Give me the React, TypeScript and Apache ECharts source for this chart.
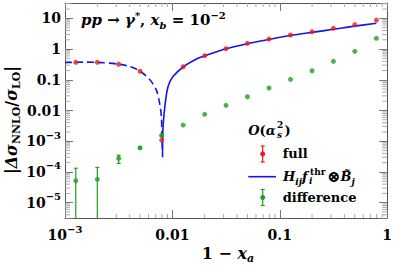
import React, { useEffect, useRef } from 'react';
import * as echarts from 'echarts';

// ---------- data ----------
const X_POINTS = [0.00126, 0.002, 0.00316, 0.005, 0.00794, 0.0126, 0.02, 0.0316, 0.05, 0.0794, 0.126, 0.2, 0.316, 0.5, 0.794];
const FULL = [0.37, 0.37, 0.32, 0.19, 0.00109, 0.266, 0.61, 1.03, 1.54, 2.12, 2.87, 3.68, 4.74, 6.2, 8.8];
const DIFF = [5.15e-5, 5.7e-5, 2.76e-4, 6.1e-4, 1.55e-3, 3.36e-3, 7.5e-3, 0.0147, 0.028, 0.054, 0.103, 0.197, 0.4, 0.845, 2.24];
const DIFF_LO = [1e-7, 1e-7, 1.9e-4, 5.6e-4, 1.45e-3, null, null, null, null, null, null, null, null, null, null];
const DIFF_HI = [1.32e-4, 1.4e-4, 3.5e-4, 6.6e-4, 1.65e-3, null, null, null, null, null, null, null, null, null, null];
const THR_NEG_X = [0.001, 0.0015, 0.002, 0.0032, 0.004, 0.005, 0.0062, 0.0071, 0.0076, 0.0079, 0.008, 0.00808];
const THR_NEG_Y = [0.365, 0.375, 0.37, 0.32, 0.27, 0.19, 0.098, 0.046, 0.0175, 0.0063, 0.0014, 5e-4];
const THR_POS_X = [0.0081, 0.00816, 0.0085, 0.0091, 0.0101, 0.0127, 0.0173, 0.02, 0.0316, 0.05, 0.0794, 0.126, 0.2, 0.316, 0.5, 0.794];
const THR_POS_Y = [3e-4, 0.0023, 0.0132, 0.059, 0.126, 0.266, 0.5, 0.6, 1.02, 1.5, 2.05, 2.75, 3.5, 4.4, 5.6, 6.9];
const X_MIN = 0.001;
const X_MAX = 1;
const Y_MIN = 3.1623e-6;
const Y_MAX = 31.623;
const X_DECADES = [0.001, 0.01, 0.1];
const Y_DECADES = [1e-6, 1e-5, 1e-4, 1e-3, 0.01, 0.1, 1, 10];
const MINOR_MULT = [2, 3, 4, 5, 6, 7, 8, 9];

// ---------- styles ----------
const F = '"DejaVu Serif", serif';
const RED = '#f01818';
const GREEN = '#1fa01f';
const BLUE = '#1414f0';
const AXIS = '#555';
const MAJOR = '#777';
const MINOR = '#aaa';

function richSet(main: number, small: number, lh: number, d: number) {
  const h = lh - 2 * d;
  const base = { fontFamily: F, fontWeight: 'bold', color: '#000' };
  return {
    r: { ...base, fontSize: main, lineHeight: lh },
    big: { ...base, fontSize: main + 3, lineHeight: lh },
    mi: { ...base, fontStyle: 'italic', fontSize: main, lineHeight: lh },
    sub: { ...base, fontStyle: 'italic', fontSize: small, height: h, lineHeight: h, verticalAlign: 'bottom' },
    subr: { ...base, fontSize: small, height: h, lineHeight: h, verticalAlign: 'bottom' },
    sup: { ...base, fontStyle: 'italic', fontSize: small, height: h, lineHeight: h, verticalAlign: 'top' },
    supr: { ...base, fontSize: small, height: h, lineHeight: h, verticalAlign: 'top' },
  };
}

const TICK_RICH = richSet(14, 10, 22, 6);

function logLabel(v: number) {
  const e = Math.log10(v);
  const r = Math.round(e);
  if (Math.abs(e - r) > 1e-4) return '';
  if (r >= 1) return '{r|' + Math.pow(10, r).toFixed(0) + '}';
  if (r >= -2) return '{r|' + Math.pow(10, r).toFixed(-r) + '}';
  return '{r|10}{supr|−' + -r + '}';
}

function txt(x: number, y: number, text: string, rich: any, align = 'left', rotation = 0) {
  return {
    type: 'text',
    x,
    y,
    rotation,
    silent: true,
    style: { text, rich, align, textAlign: align, verticalAlign: 'middle', textVerticalAlign: 'middle' },
  };
}

function errIcon(cx: number, cy: number, color: string) {
  return [
    { type: 'line', shape: { x1: cx, y1: cy - 8, x2: cx, y2: cy + 8 }, style: { stroke: color, lineWidth: 1.2 } },
    { type: 'line', shape: { x1: cx - 2, y1: cy - 8, x2: cx + 2, y2: cy - 8 }, style: { stroke: color, lineWidth: 1.2 } },
    { type: 'line', shape: { x1: cx - 2, y1: cy + 8, x2: cx + 2, y2: cy + 8 }, style: { stroke: color, lineWidth: 1.2 } },
    { type: 'circle', shape: { cx, cy, r: 2.5 }, style: { fill: color } },
  ];
}

export default function App() {
  const ref = useRef<HTMLDivElement>(null);
  useEffect(() => {
    if (!ref.current) return;
    const chart = echarts.init(ref.current, undefined, { renderer: 'svg' });

    const xMinor: number[][] = [];
    X_DECADES.forEach((d) => MINOR_MULT.forEach((m) => xMinor.push([d * m, 1])));
    const yMinor: number[][] = [];
    Y_DECADES.forEach((d) =>
      MINOR_MULT.forEach((m) => {
        const v = d * m;
        if (v > Y_MIN && v < Y_MAX) yMinor.push([0.01, v]);
      })
    );

    const fullData = X_POINTS.map((x, i) => [x, FULL[i]]);
    const diffData = X_POINTS.map((x, i) => [x, DIFF[i]]);
    const errData: any[] = [];
    X_POINTS.forEach((x, i) => {
      if (DIFF_LO[i] != null && DIFF_HI[i] != null) errData.push([x, DIFF[i], DIFF_LO[i], DIFF_HI[i]]);
    });

    const axisCommon = {
      type: 'log',
      logBase: 10,
      axisLine: { show: true, lineStyle: { color: AXIS, width: 1 } },
      axisTick: { show: true, inside: true, length: 8, lineStyle: { color: MAJOR, width: 1 } },
      splitLine: { show: false },
      minorTick: { show: false },
      minorSplitLine: { show: false },
    };

    const legendRich = richSet(13, 9, 22, 5);
    const annRich = richSet(15, 10, 22, 5);
    const titleRich = richSet(16, 11, 24, 5);

    chart.setOption({
      animation: false,
      backgroundColor: '#fff',
      grid: { left: 65, right: 6, top: 3, bottom: 48 },
      xAxis: [
        {
          ...axisCommon,
          position: 'bottom',
          min: X_MIN,
          max: X_MAX,
          axisLabel: {
            show: true,
            margin: 6,
            formatter: (v: number) => logLabel(v),
            rich: TICK_RICH,
            showMinLabel: true,
            showMaxLabel: true,
          },
        },
        {
          ...axisCommon,
          position: 'top',
          min: X_MIN,
          max: X_MAX,
          axisLabel: { show: false },
        },
      ],
      yAxis: [
        {
          ...axisCommon,
          position: 'left',
          min: Y_MIN,
          max: Y_MAX,
          axisLabel: {
            show: true,
            margin: 4,
            formatter: (v: number) => logLabel(v),
            rich: TICK_RICH,
          },
        },
        {
          ...axisCommon,
          position: 'right',
          min: Y_MIN,
          max: Y_MAX,
          axisLabel: { show: false },
        },
      ],
      series: [
        {
          type: 'custom',
          name: 'xMinor',
          silent: true,
          data: xMinor,
          renderItem: (params: any, api: any) => {
            const cs = params.coordSys;
            const x = api.coord([api.value(0), api.value(1)])[0];
            const b = cs.y + cs.height;
            return {
              type: 'group',
              children: [
                { type: 'line', shape: { x1: x, y1: b, x2: x, y2: b - 4 }, style: { stroke: MINOR, lineWidth: 1 } },
                { type: 'line', shape: { x1: x, y1: cs.y, x2: x, y2: cs.y + 4 }, style: { stroke: MINOR, lineWidth: 1 } },
              ],
            };
          },
        },
        {
          type: 'custom',
          name: 'yMinor',
          silent: true,
          data: yMinor,
          renderItem: (params: any, api: any) => {
            const cs = params.coordSys;
            const y = api.coord([api.value(0), api.value(1)])[1];
            const r = cs.x + cs.width;
            return {
              type: 'group',
              children: [
                { type: 'line', shape: { x1: cs.x, y1: y, x2: cs.x + 5, y2: y }, style: { stroke: MINOR, lineWidth: 1 } },
                { type: 'line', shape: { x1: r, y1: y, x2: r - 5, y2: y }, style: { stroke: MINOR, lineWidth: 1 } },
              ],
            };
          },
        },
        {
          type: 'line',
          name: 'thr-negative',
          data: THR_NEG_X.map((x, i) => [x, THR_NEG_Y[i]]),
          showSymbol: false,
          smooth: 0.3,
          lineStyle: { color: BLUE, width: 1.6, type: [7, 4] },
          z: 3,
        },
        {
          type: 'line',
          name: 'H_ij f_i^thr ⊗ B_j',
          data: THR_POS_X.map((x, i) => [x, THR_POS_Y[i]]),
          showSymbol: false,
          smooth: 0.3,
          lineStyle: { color: BLUE, width: 1.6 },
          z: 3,
        },
        {
          type: 'custom',
          name: 'difference errors',
          silent: true,
          data: errData,
          z: 4,
          renderItem: (params: any, api: any) => {
            const cs = params.coordSys;
            const bottom = cs.y + cs.height;
            const x = api.coord([api.value(0), api.value(1)])[0];
            const yLoRaw = api.coord([api.value(0), api.value(2)])[1];
            const yHi = api.coord([api.value(0), api.value(3)])[1];
            const clipped = yLoRaw > bottom;
            const yLo = Math.min(yLoRaw, bottom);
            const children: any[] = [
              { type: 'line', shape: { x1: x, y1: yLo, x2: x, y2: yHi }, style: { stroke: GREEN, lineWidth: 1.2 } },
              { type: 'line', shape: { x1: x - 2, y1: yHi, x2: x + 2, y2: yHi }, style: { stroke: GREEN, lineWidth: 1.2 } },
            ];
            if (!clipped) {
              children.push({ type: 'line', shape: { x1: x - 2, y1: yLo, x2: x + 2, y2: yLo }, style: { stroke: GREEN, lineWidth: 1.2 } });
            }
            return { type: 'group', children };
          },
        },
        {
          type: 'scatter',
          name: 'difference',
          data: diffData,
          symbol: 'circle',
          symbolSize: 5,
          itemStyle: { color: GREEN },
          z: 5,
        },
        {
          type: 'scatter',
          name: 'full',
          data: fullData,
          symbol: 'circle',
          symbolSize: 5,
          itemStyle: { color: RED },
          z: 6,
        },
      ],
      graphic: [
        // annotation
        txt(81, 20, '{mi|pp}{r| → }{mi|γ}{supr|*}{r|, }{mi|x}{sub|b}{r| = 10}{supr|−2}', annRich),
        // y title
        txt(11, 120, '{r|\u007C}{mi|Δσ}{subr|NNLO}{r|/}{mi|σ}{subr|LO}{r|\u007C}', titleRich, 'center', Math.PI / 2),
        // x title
        txt(228, 253, '{r|1 − }{mi|x}{sub|a}', titleRich, 'center'),
        // legend title
        txt(248.3, 130, '{mi|O}{r|(}{mi|α}', legendRich),
        txt(277, 125, '{supr|2}', legendRich),
        txt(277, 135, '{sub|s}', legendRich),
        txt(284.5, 130, '{r|)}', legendRich),
        // legend: full
        ...errIcon(262.7, 154, RED),
        txt(282.7, 153.3, '{r|full}', legendRich),
        // legend: blue line
        { type: 'line', shape: { x1: 248.3, y1: 176.7, x2: 276, y2: 176.7 }, style: { stroke: BLUE, lineWidth: 1.6 } },
        txt(283, 176.5, '{mi|H}{sub|ij}{mi|f}', legendRich),
        txt(310, 171.5, '{supr|thr}', legendRich),
        txt(309, 181, '{sub|i}', legendRich),
        txt(327, 176.5, '{big|⊗}{mi|B\u0303}{sub|j}', legendRich),
        // legend: difference
        ...errIcon(262.7, 197.5, GREEN),
        txt(282.7, 197.3, '{r|difference}', legendRich),
      ],
    });
    return () => chart.dispose();
  }, []);
  return <div ref={ref} style={{ position: 'fixed', left: 0, top: 0, width: 395, height: 266 }} />;
}
